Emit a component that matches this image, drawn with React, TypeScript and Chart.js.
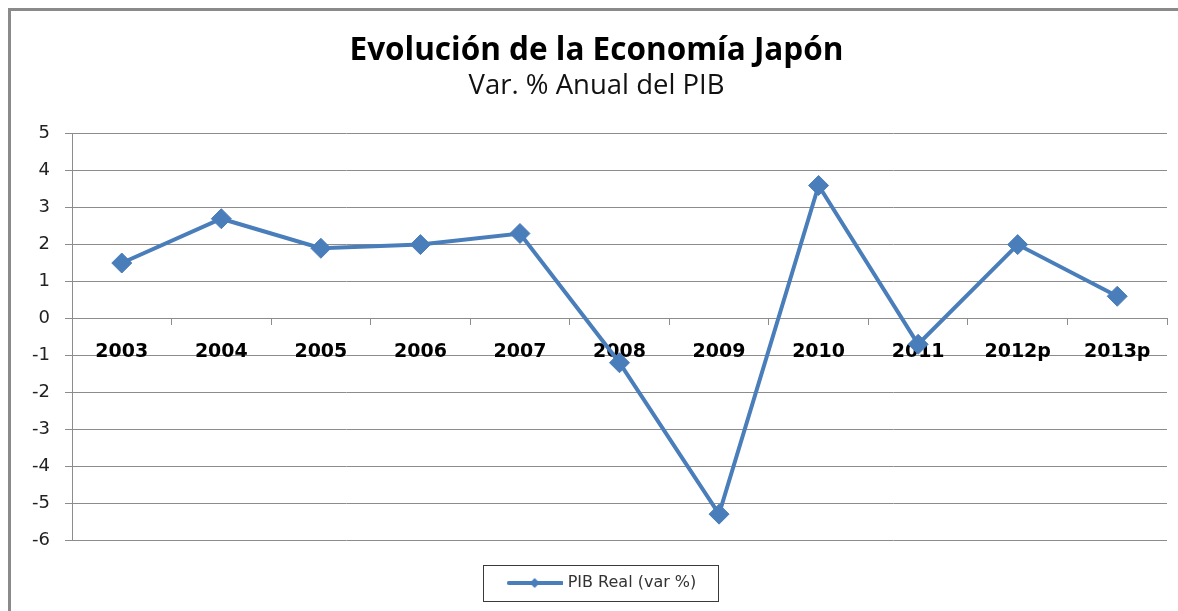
import React, { useEffect, useRef } from "react";
import { Chart, registerables } from "chart.js";

Chart.register(...registerables);

const categories = ["2003", "2004", "2005", "2006", "2007", "2008", "2009", "2010", "2011", "2012p", "2013p"];
const pibReal = [1.5, 2.7, 1.9, 2.0, 2.3, -1.2, -5.3, 3.6, -0.7, 2.0, 0.6];
const seriesLabel = "PIB Real (var %)";
const titleText = "Evolución de la Economía Japón";
const subtitleText = "Var. % Anual del PIB";
const yMin = -6;
const yMax = 5;

const LINE_COLOR = "#4A7EBB";
const GRID_COLOR = "#8C8C8C";
const FRAME_COLOR = "#8a8a8a";
const TITLE_FONT = "'Open Sans', 'Noto Sans', sans-serif";
const AXIS_FONT = "'DejaVu Sans', 'Noto Sans', sans-serif";

function makeLegendIcon(): HTMLCanvasElement {
  const c = document.createElement("canvas");
  c.width = 56;
  c.height = 14;
  const ctx = c.getContext("2d")!;
  ctx.strokeStyle = LINE_COLOR;
  ctx.lineWidth = 4;
  ctx.lineCap = "round";
  ctx.beginPath();
  ctx.moveTo(2, 7);
  ctx.lineTo(55, 7);
  ctx.stroke();
  ctx.fillStyle = LINE_COLOR;
  ctx.beginPath();
  ctx.moveTo(28, 2);
  ctx.lineTo(33, 7);
  ctx.lineTo(28, 12);
  ctx.lineTo(23, 7);
  ctx.closePath();
  ctx.fill();
  return c;
}

const frame = {
  id: "frame",
  beforeDraw(chart: any) {
    const ctx = chart.ctx;
    ctx.save();
    ctx.fillStyle = "#fff";
    ctx.fillRect(0, 0, chart.width, chart.height);
    ctx.fillStyle = FRAME_COLOR;
    ctx.fillRect(8, 8, chart.width - 8, 3);
    ctx.fillRect(8, 8, 3, chart.height - 8);
    ctx.restore();
  },
};

const boxShift = {
  id: "boxShift",
  afterLayout(chart: any) {
    if (chart.legend) chart.legend.left += 39;
    for (const b of chart.boxes || []) {
      const t = b && b.options && b.options.text;
      if (t === titleText || t === subtitleText) b.left += 26;
    }
  },
};

const legendBorder = {
  id: "legendBorder",
  afterDraw(chart: any) {
    const lg = chart.legend;
    if (!lg || !lg.legendHitBoxes || !lg.legendHitBoxes.length) return;
    const hb = lg.legendHitBoxes[0];
    const ctx = chart.ctx;
    ctx.save();
    ctx.strokeStyle = "#3a3a3a";
    ctx.lineWidth = 1;
    const cy = hb.top + hb.height / 2;
    const x0 = Math.round(hb.left - 27) + 0.5;
    const x1 = Math.round(hb.left + hb.width + 22) + 0.5;
    const y0 = Math.round(cy - 18) + 0.5;
    const y1 = Math.round(cy + 18) + 0.5;
    ctx.strokeRect(x0, y0, x1 - x0, y1 - y0);
    ctx.restore();
  },
};

export default function App() {
  const ref = useRef<HTMLCanvasElement | null>(null);

  useEffect(() => {
    if (!ref.current) return;
    const icon = makeLegendIcon();
    const chart = new Chart(ref.current, {
      type: "line",
      data: {
        labels: categories,
        datasets: [
          {
            label: seriesLabel,
            data: pibReal,
            borderColor: LINE_COLOR,
            backgroundColor: LINE_COLOR,
            borderWidth: 4,
            pointStyle: "rectRot",
            pointRadius: 10,
            pointBorderWidth: 1,
            pointBackgroundColor: LINE_COLOR,
            pointBorderColor: LINE_COLOR,
            tension: 0,
          },
        ],
      },
      options: {
        animation: false,
        responsive: false,
        devicePixelRatio: 1,
        layout: { padding: { left: 0, right: 11, top: 0, bottom: 10 } },
        plugins: {
          title: {
            display: true,
            text: titleText,
            color: "#000",
            font: { family: TITLE_FONT, size: 31.5, weight: "bold" },
            padding: { top: 32, bottom: 0 },
          },
          subtitle: {
            display: true,
            text: subtitleText,
            color: "#111",
            font: { family: TITLE_FONT, size: 27.5, weight: "normal" },
            padding: { top: 0, bottom: 31 },
          },
          legend: {
            display: true,
            position: "bottom",
            align: "center",
            labels: {
              usePointStyle: true,
              pointStyle: icon as any,
              pointStyleWidth: 50,
              padding: 35,
              color: "#333",
              font: { family: AXIS_FONT, size: 16 },
            },
          },
          tooltip: { enabled: false },
        },
        scales: {
          x: {
            type: "category",
            position: { y: 0 } as any,
            offset: true,
            grid: {
              display: true,
              drawOnChartArea: false,
              drawTicks: true,
              tickLength: 6,
              offset: true,
              color: GRID_COLOR,
            },
            border: { display: true, color: GRID_COLOR, width: 1 },
            ticks: {
              color: "#000",
              padding: 16,
              maxRotation: 0,
              autoSkip: false,
              font: { family: AXIS_FONT, size: 19, weight: "bold" },
            },
          },
          y: {
            type: "linear",
            min: yMin,
            max: yMax,
            afterFit(scale: any) {
              scale.width = 72;
            },
            grid: {
              color: GRID_COLOR,
              tickLength: 7,
              drawTicks: true,
            },
            border: { display: true, color: GRID_COLOR, width: 1 },
            ticks: {
              stepSize: 1,
              padding: 15,
              color: "#222",
              font: { family: AXIS_FONT, size: 18 },
            },
          },
        },
      },
      plugins: [frame, boxShift, legendBorder],
    });
    return () => chart.destroy();
  }, []);

  return (
    <div style={{ position: "fixed", left: 0, top: 0, width: 1178, height: 611, background: "#fff", overflow: "hidden" }}>
      <canvas ref={ref} width={1178} height={611} style={{ position: "absolute", left: 0, top: 0, width: 1178, height: 611 }} />
    </div>
  );
}
